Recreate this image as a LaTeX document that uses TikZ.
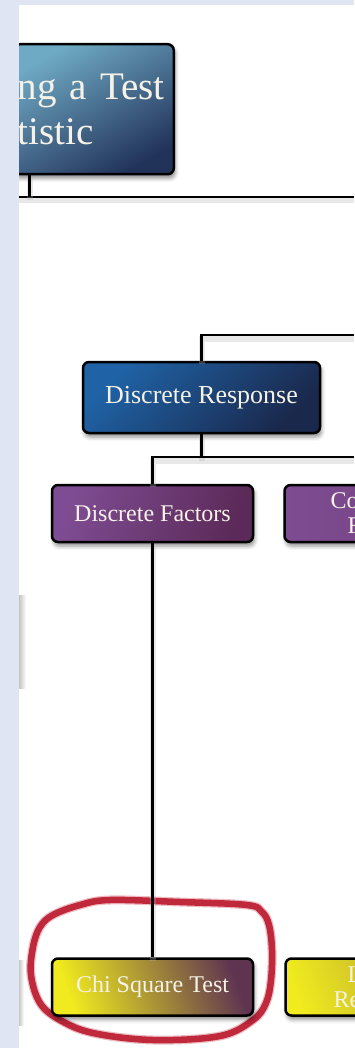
\documentclass[tikz,border=0pt]{standalone}
\usepackage{fontspec}
\setmainfont{Liberation Serif}
\usetikzlibrary{positioning,shadows.blur}
\definecolor{stripbg}{HTML}{DFE5F2}
\definecolor{boxtext}{HTML}{F6F2E8}
\definecolor{tealtop}{HTML}{6FAAC4}
\definecolor{navybot}{HTML}{22335A}
\definecolor{bluetop}{HTML}{1F63A6}
\definecolor{bluebot}{HTML}{1A284C}
\definecolor{purptop}{HTML}{7E4C92}
\definecolor{purpbot}{HTML}{5C2A58}
\definecolor{yellowA}{HTML}{F0EA1E}
\definecolor{yellowB}{HTML}{9A8038}
\definecolor{yellowC}{HTML}{5E3450}
\definecolor{yellowD}{HTML}{B8A632}
\definecolor{ringred}{HTML}{C0283C}

\begin{document}
\begin{tikzpicture}[x=1pt, y=-1pt, node distance=29pt,
  box/.style={draw=black, line width=2.5pt, rounded corners=6pt, text=boxtext, align=center, inner sep=0pt,
    blur shadow={shadow xshift=1.5pt, shadow yshift=-4pt, shadow blur radius=4pt, shadow opacity=45}},
  small/.style={font=\fontsize{24}{25}\selectfont, minimum height=57pt},
  purplebox/.style={box, small, left color=purptop, right color=purpbot, shading angle=70},
  yellowbox/.style={box, small, left color=yellowA, middle color=yellowB, right color=yellowC, shading angle=110},
  link/.style={line width=2.2pt, preaction={draw=black!30, line width=6pt, opacity=.3, transform canvas={yshift=-3.5pt}}},
  ring/.style={draw=ringred, line width=6.5pt, preaction={draw=ringred, line width=9pt, opacity=.3}}]
\useasboundingbox (0,0) rectangle (354,1048);

% annotation round the chosen test
\draw[ring] plot[smooth cycle, tension=0.6] coordinates {(33,947) (40,927) (53,915) (80,905) (110,900) (180,902) (247,905) (262,912) (269,925) (272,950) (271,980) (266,1003) (253,1020) (220,1036) (153,1040) (93,1033) (60,1020) (40,1003) (31,975)};

% boxes
\node[box, anchor=north east, minimum height=130pt, text width=152pt, inner xsep=4pt, align=left,
  font=\fontsize{39}{45}\selectfont, top color=tealtop, bottom color=navybot, shading angle=30] (top) at (175,43) {ng a Test\\tistic};
\node[box, minimum width=237pt, minimum height=71pt, font=\fontsize{26}{28}\selectfont,
  top color=bluetop, bottom color=bluebot, shading angle=45] (dr) at (201.5,397.5) {Discrete Response};
\node[purplebox, minimum width=201pt] (df) at (152.5,513.5) {Discrete Factors};
\node[purplebox, right=of df, text width=60pt, inner xsep=46pt, align=left, left color=purptop, right color=purptop!70!purpbot] (cf) {Co\\\hspace*{17pt}F};
\node[yellowbox, minimum width=201pt, below=414pt of df] (chi) {Chi Square Test};
\node[yellowbox, right=30pt of chi, text width=60pt, inner xsep=48pt, align=left, left color=yellowA, right color=yellowD, shading angle=110] (lr) {\hspace*{14pt}L\\Re};

% connectors
\coordinate (tl) at (0,197); \coordinate (tr) at (354,197);
\coordinate (e1) at (354,335); \coordinate (e2) at (354,457);
\draw[link] (tl) -- (tr);
\draw[link] ([xshift=17pt]top.south west) -- ([xshift=17pt]top.south west |- tl);
\draw[link] (e1) -| (dr.north);
\draw[link] (dr.south) -- (dr.south |- e2);
\draw[link] (e2) -| (df.north);
\draw[link] (df) -- (chi);

% page edge
\shade[left color=black!30, right color=white] (17,595) rectangle (26,688);
\shade[left color=black!30, right color=white] (17,960) rectangle (24,1025);
\fill[stripbg] (0,0) rectangle (19,1048);
\fill[stripbg] (0,0) rectangle (354,5);
\end{tikzpicture}
\end{document}
